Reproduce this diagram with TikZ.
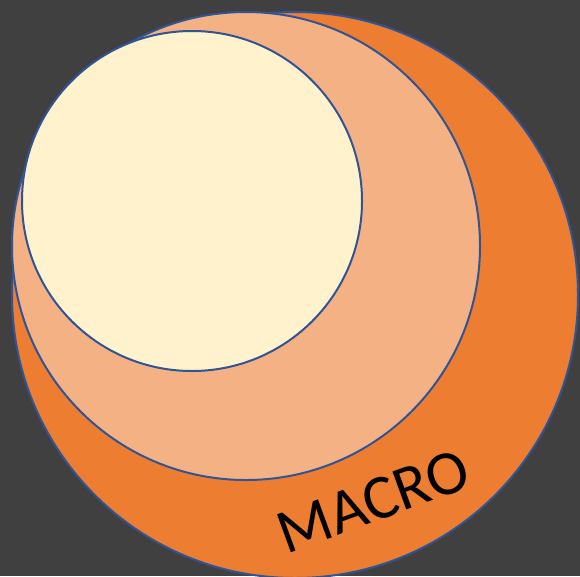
\documentclass[tikz,border=0pt]{standalone}
\usepackage{fontspec}
\setmainfont{Carlito}
\definecolor{bg}{HTML}{404040}
\definecolor{outerc}{HTML}{ED7D31}
\definecolor{midc}{HTML}{F4B183}
\definecolor{innerc}{HTML}{FFF2CC}
\definecolor{edgec}{HTML}{2F5597}
\begin{document}
\begin{tikzpicture}[x=1pt,y=-1pt,
  ring/.style={draw=edgec,line width=2pt}]
\fill[bg] (0,0) rectangle (580,576);
\useasboundingbox (0,0) rectangle (580,576);
\begin{scope}
\clip (0,0) rectangle (580,576);
\node[ring,fill=outerc,circle,minimum size=566pt,inner sep=0pt] (outer) at (295,295) {};
\node[ring,fill=midc,circle,minimum size=468pt,inner sep=0pt] (mid) at (246,246) {};
\node[ring,fill=innerc,circle,minimum size=340pt,inner sep=0pt] (inner) at (192,201) {};
\end{scope}
\node[rotate=20,font=\fontsize{63}{63}\selectfont,text=black] (label) at (373,501) {MACRO};
\end{tikzpicture}
\end{document}
